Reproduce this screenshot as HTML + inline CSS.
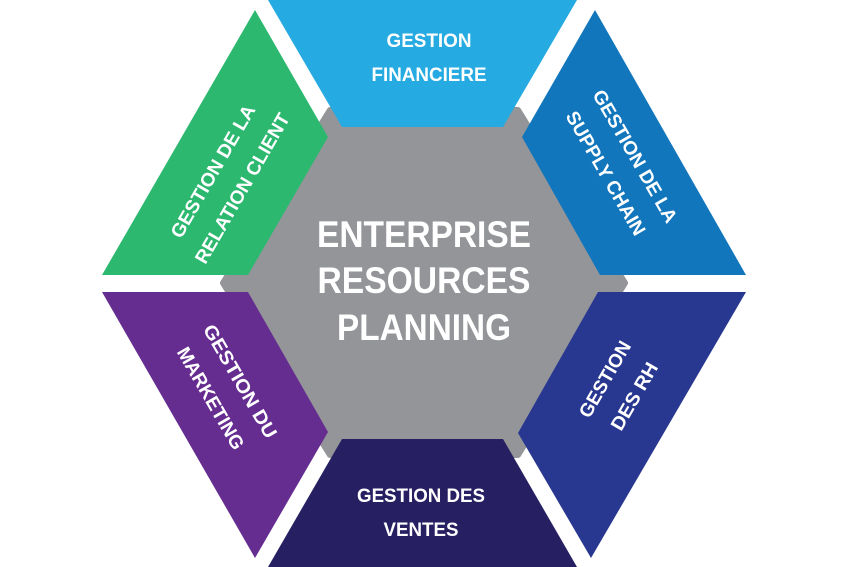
<!DOCTYPE html>
<html><head><meta charset="utf-8"><style>
html,body{margin:0;padding:0;background:#fff;}
svg{display:block;}
text{font-family:"Liberation Sans",Arial,sans-serif;font-weight:bold;fill:#fff;}
</style></head><body>
<svg width="850" height="567" viewBox="0 0 850 567" xmlns="http://www.w3.org/2000/svg">
<polygon points="330,110 518,110 625,283 518,455 330,455 223,283" fill="#939598" stroke="#939598" stroke-width="6" stroke-linejoin="round"/>
<polygon points="268,0 577,0 503,127 342,127" fill="#25AAE1"/>
<polygon points="255,10 328,137 248,275 102,275" fill="#2DB870"/>
<polygon points="595,10 522,137 600,275 746,275" fill="#1276BD"/>
<polygon points="102,292 248,292 328,432 255,558" fill="#662D91"/>
<polygon points="746,292 598,292 518,433 591,558" fill="#283891"/>
<polygon points="342,439 503,439 577,567 268,567" fill="#261F61"/>
<g font-size="19" text-anchor="middle" lengthAdjust="spacingAndGlyphs">
<text x="429" y="47" textLength="85" lengthAdjust="spacingAndGlyphs">GESTION</text>
<text x="429" y="81" textLength="115" lengthAdjust="spacingAndGlyphs">FINANCIERE</text>
<text x="421" y="502" textLength="128" lengthAdjust="spacingAndGlyphs">GESTION DES</text>
<text x="421" y="536" textLength="75" lengthAdjust="spacingAndGlyphs">VENTES</text>
<g transform="translate(228,180) rotate(-60)">
<text x="0" y="-11" textLength="150" lengthAdjust="spacingAndGlyphs">GESTION DE LA</text>
<text x="0" y="23" textLength="170" lengthAdjust="spacingAndGlyphs">RELATION CLIENT</text>
</g>
<g transform="translate(620,165) rotate(60)">
<text x="0" y="-11" textLength="150" lengthAdjust="spacingAndGlyphs">GESTION DE LA</text>
<text x="0" y="23" textLength="140" lengthAdjust="spacingAndGlyphs">SUPPLY CHAIN</text>
</g>
<g transform="translate(225,390) rotate(60)">
<text x="0" y="-11" textLength="128" lengthAdjust="spacingAndGlyphs">GESTION DU</text>
<text x="0" y="23" textLength="115" lengthAdjust="spacingAndGlyphs">MARKETING</text>
</g>
<g transform="translate(620,388) rotate(-60)">
<text x="0" y="-11" textLength="85" lengthAdjust="spacingAndGlyphs">GESTION</text>
<text x="0" y="23" textLength="75" lengthAdjust="spacingAndGlyphs">DES RH</text>
</g>
</g>
<g font-size="37" text-anchor="middle">
<text x="424" y="247" textLength="214" lengthAdjust="spacingAndGlyphs">ENTERPRISE</text>
<text x="424" y="293" textLength="213" lengthAdjust="spacingAndGlyphs">RESOURCES</text>
<text x="424" y="340" textLength="174" lengthAdjust="spacingAndGlyphs">PLANNING</text>
</g>
</svg>
</body></html>
